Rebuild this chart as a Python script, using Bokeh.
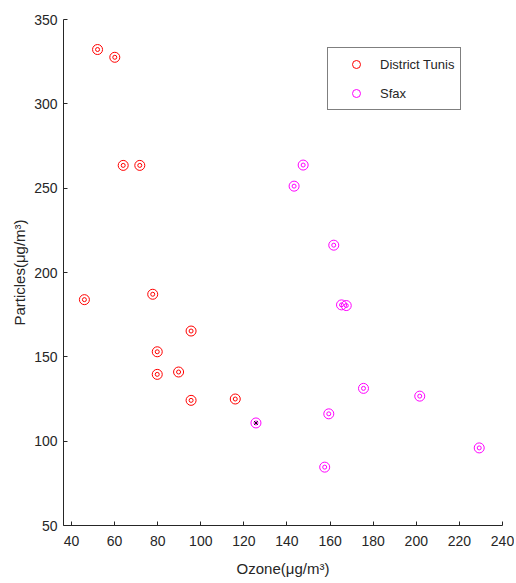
from bokeh.plotting import figure
from bokeh.models import Range1d, Legend, LegendItem
from bokeh.embed import file_html
from bokeh.resources import INLINE

# Data (Ozone µg/m3, Particles µg/m3)
tunis_ozone = [52.1, 60.1, 64.0, 71.7, 46.0, 77.7, 95.5, 79.8, 79.8, 89.7, 95.5, 116.0]
tunis_particles = [332.2, 327.6, 263.5, 263.5, 183.9, 187.1, 165.3, 153.0, 139.6, 141.0, 124.2, 125.0]

sfax_ozone = [147.5, 143.3, 161.7, 165.3, 167.5, 175.5, 201.6, 159.4, 125.6, 157.5, 229.2]
sfax_particles = [263.7, 251.2, 216.2, 180.8, 180.4, 131.3, 126.7, 116.2, 110.8, 84.6, 96.0]

mark_ozone = [125.6]
mark_particles = [110.8]

x_ticks = [40, 60, 80, 100, 120, 140, 160, 180, 200, 220, 240]
y_ticks = [50, 100, 150, 200, 250, 300, 350]

FONT = "'Liberation Sans', Arial, sans-serif"

p = figure(width=514, height=582, output_backend="svg", toolbar_location=None,
           x_range=Range1d(36.3, 240), y_range=Range1d(50, 350),
           min_border_left=63, min_border_right=12, min_border_top=19, min_border_bottom=57)
p.outline_line_color = None
p.xgrid.visible = False
p.ygrid.visible = False

for ax in (p.xaxis[0], p.yaxis[0]):
    ax.axis_line_color = "#262626"
    ax.axis_line_width = 1
    ax.major_tick_in = 4
    ax.major_tick_out = 0
    ax.minor_tick_line_color = None
    ax.major_tick_line_color = "#262626"
    ax.major_label_text_font = FONT
    ax.major_label_text_font_size = "14px"
    ax.major_label_text_color = "#262626"
    ax.axis_label_text_font = FONT
    ax.axis_label_text_font_size = "15px"
    ax.axis_label_text_font_style = "normal"
    ax.axis_label_text_color = "#262626"

p.xaxis.ticker = x_ticks
p.yaxis.ticker = y_ticks
p.xaxis.major_label_standoff = 10
p.yaxis.major_label_standoff = 6
p.xaxis.axis_label = "Ozone(μg/m³)"
p.yaxis.axis_label = "Particles(μg/m³)"
p.xaxis.axis_label_standoff = 11
p.yaxis.axis_label_standoff = 3

r_t = p.scatter(tunis_ozone, tunis_particles, marker="circle", size=10,
                fill_color=None, line_color="#FF0000", line_width=1)
p.scatter(tunis_ozone, tunis_particles, marker="circle", size=4,
          fill_color=None, line_color="#FF0000", line_width=1)
r_s = p.scatter(sfax_ozone, sfax_particles, marker="circle", size=10,
                fill_color=None, line_color="#FF00FF", line_width=1)
p.scatter(sfax_ozone, sfax_particles, marker="circle", size=4,
          fill_color=None, line_color="#FF00FF", line_width=1)
p.scatter(mark_ozone, mark_particles, marker="x", size=5,
          line_color="black", line_width=1)

legend = Legend(items=[LegendItem(label="District Tunis", renderers=[r_t]),
                       LegendItem(label="Sfax", renderers=[r_s])],
                location=(264, 415))
legend.border_line_color = "black"
legend.border_line_width = 1.5
legend.padding = 6
legend.spacing = 9
legend.glyph_width = 44
legend.glyph_height = 20
legend.label_height = 20
legend.label_standoff = 2
legend.label_text_font = FONT
legend.label_text_font_size = "13px"
legend.label_text_color = "#262626"
legend.margin = 0
p.add_layout(legend)

open("out.html", "w").write(file_html(p, INLINE))
